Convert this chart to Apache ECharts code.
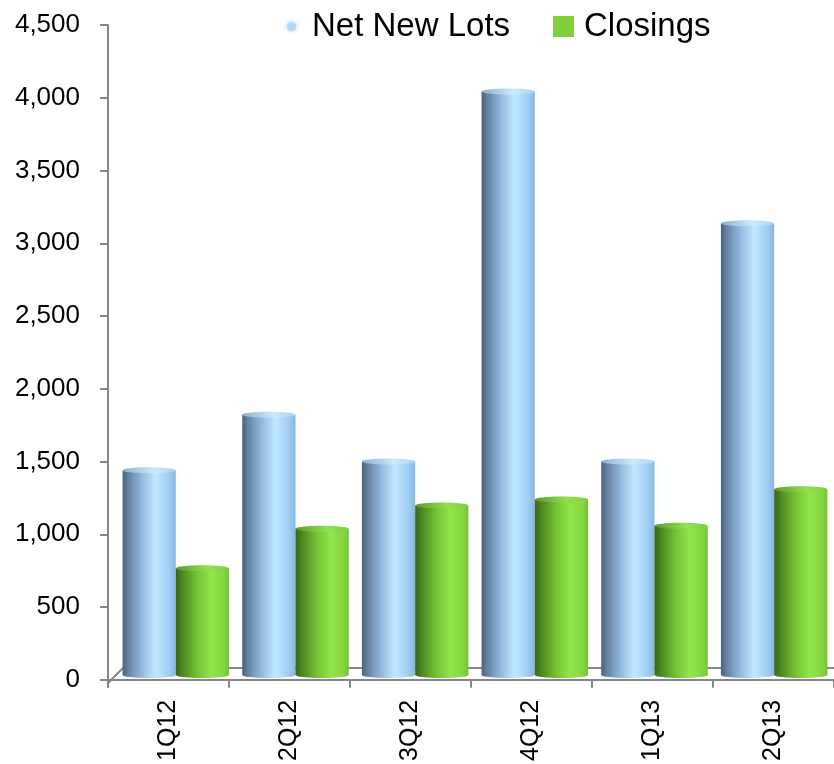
<!DOCTYPE html>
<html>
<head>
<meta charset="utf-8">
<title>Net New Lots and Closings</title>
<script src="https://cdn.jsdelivr.net/npm/echarts@6/dist/echarts.min.js"></script>
<style>
  html, body { margin: 0; padding: 0; background: #ffffff; }
  #chart { width: 834px; height: 764px; }
</style>
</head>
<body>
<div id="chart"></div>
<script>
// Quarterly lot activity
const quarters = ['1Q12', '2Q12', '3Q12', '4Q12', '1Q13', '2Q13'];
const netNewLots = [1400, 1780, 1460, 3990, 1460, 3090];
const closings = [730, 1000, 1160, 1200, 1020, 1270];
const valueMin = 0;
const valueMax = 4500;
const valueStep = 500;

const FONT = '"Liberation Sans", Arial, sans-serif';
const AXIS_GREY = '#868686';

const chart = echarts.init(document.getElementById('chart'), null, { renderer: 'canvas' });

const blueBody = () => new echarts.graphic.LinearGradient(0, 0, 1, 0, [
  { offset: 0, color: '#4a627c' },
  { offset: 0.12, color: '#6886a6' },
  { offset: 0.38, color: '#95bde2' },
  { offset: 0.62, color: '#bfe8ff' },
  { offset: 0.86, color: '#a2cff4' },
  { offset: 1, color: '#8ab6de' }
]);
const blueCap = () => new echarts.graphic.LinearGradient(0, 0, 1, 0, [
  { offset: 0, color: '#8fb0cf' },
  { offset: 0.6, color: '#cde9fb' },
  { offset: 1, color: '#add3f0' }
]);
const greenBody = () => new echarts.graphic.LinearGradient(0, 0, 1, 0, [
  { offset: 0, color: '#386617' },
  { offset: 0.14, color: '#4f8b22' },
  { offset: 0.4, color: '#76c234' },
  { offset: 0.66, color: '#91e54b' },
  { offset: 0.9, color: '#85d741' },
  { offset: 1, color: '#74c236' }
]);
const greenCap = () => new echarts.graphic.LinearGradient(0, 0, 1, 0, [
  { offset: 0, color: '#5e9a2c' },
  { offset: 0.6, color: '#93e052' },
  { offset: 1, color: '#80cf40' }
]);

// Draws one cylinder per category; side -1 sits left of the band centre, +1 right of it
function cylinder(side, body, cap) {
  return function (params, api) {
    const idx = api.value(0);
    const val = api.value(1);
    const top = api.coord([idx, val]);
    const base = api.coord([idx, 0]);
    const band = api.size([1, 0])[0];
    const bw = band * 0.445;
    const x = side < 0 ? top[0] - bw : top[0];
    const ry = 3;
    return {
      type: 'group',
      children: [
        {
          type: 'ellipse',
          shape: { cx: x + bw / 2, cy: base[1], rx: bw / 2, ry: ry },
          style: { fill: body() }
        },
        {
          type: 'rect',
          shape: { x: x, y: top[1], width: bw, height: base[1] - top[1] },
          style: { fill: body() }
        },
        {
          type: 'ellipse',
          shape: { cx: x + bw / 2, cy: top[1], rx: bw / 2, ry: ry },
          style: { fill: cap() }
        }
      ]
    };
  };
}

const option = {
  backgroundColor: '#ffffff',
  animation: false,
  textStyle: { fontFamily: FONT },
  legend: [
    {
      data: [{ name: 'Net New Lots', icon: 'circle' }],
      left: 282,
      top: 5,
      itemWidth: 9,
      itemHeight: 9,
      itemStyle: { color: '#b3d8f7', shadowBlur: 4, shadowColor: '#a6cff3' },
      textStyle: { fontSize: 33, color: '#000000', fontFamily: FONT, padding: [0, 0, 0, 11] }
    },
    {
      data: [{ name: 'Closings', icon: 'rect' }],
      left: 548,
      top: 5,
      itemWidth: 21,
      itemHeight: 21,
      itemStyle: { color: '#7fd03a' },
      textStyle: { fontSize: 33, color: '#000000', fontFamily: FONT, padding: [0, 0, 0, 5] }
    }
  ],
  grid: [
    // front axis frame
    { left: 108, top: 25, width: 739, bottom: 81, containLabel: false },
    // plane in which the cylinders stand
    { left: 116, top: 17, width: 723, bottom: 89, containLabel: false }
  ],
  xAxis: [
    {
      gridIndex: 0,
      type: 'category',
      data: quarters,
      boundaryGap: true,
      axisLine: { lineStyle: { color: AXIS_GREY, width: 2 } },
      axisTick: { show: true, length: 8, interval: 0, lineStyle: { color: AXIS_GREY, width: 2 } },
      axisLabel: { rotate: 90, margin: 20, fontSize: 25, color: '#000000', fontFamily: FONT, interval: 0 },
      splitLine: { show: false }
    },
    {
      gridIndex: 1,
      type: 'category',
      data: quarters,
      boundaryGap: true,
      show: false
    }
  ],
  yAxis: [
    {
      gridIndex: 0,
      type: 'value',
      min: valueMin,
      max: valueMax,
      interval: valueStep,
      axisLine: { show: true, lineStyle: { color: AXIS_GREY, width: 2 } },
      axisTick: { show: true, length: 8, lineStyle: { color: AXIS_GREY, width: 2 } },
      axisLabel: {
        margin: 28,
        fontSize: 26,
        color: '#000000',
        fontFamily: FONT,
        formatter: v => v.toLocaleString('en-US')
      },
      splitLine: { show: false }
    },
    {
      gridIndex: 1,
      type: 'value',
      min: valueMin,
      max: valueMax,
      interval: valueStep,
      show: false,
      splitLine: { show: false }
    }
  ],
  graphic: [
    // floor edges
    {
      type: 'polyline',
      z: 1,
      silent: true,
      shape: { points: [[108, 683], [123, 668], [834, 668]] },
      style: { stroke: AXIS_GREY, lineWidth: 2, fill: null }
    }
  ],
  series: [
    {
      name: 'Net New Lots',
      type: 'custom',
      xAxisIndex: 1,
      yAxisIndex: 1,
      z: 3,
      itemStyle: { color: '#b3d8f7' },
      renderItem: cylinder(-1, blueBody, blueCap),
      data: netNewLots.map((v, i) => [i, v])
    },
    {
      name: 'Closings',
      type: 'custom',
      xAxisIndex: 1,
      yAxisIndex: 1,
      z: 3,
      itemStyle: { color: '#7fd03a' },
      renderItem: cylinder(1, greenBody, greenCap),
      data: closings.map((v, i) => [i, v])
    }
  ]
};

chart.setOption(option);
</script>
</body>
</html>
